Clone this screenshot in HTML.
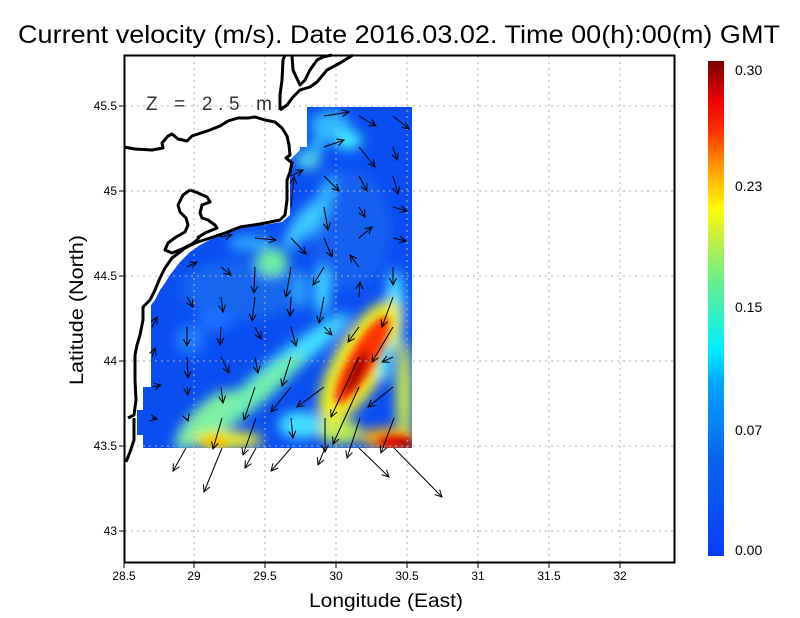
<!DOCTYPE html>
<html><head><meta charset="utf-8"><style>
html,body{margin:0;padding:0;background:#fff;}
svg{display:block;font-family:"Liberation Sans",sans-serif;}
</style></head><body>
<svg width="800" height="618" viewBox="0 0 800 618" xmlns="http://www.w3.org/2000/svg">
<defs>
<clipPath id="dc"><path d="M307,107 L412,107 L412,448 L143,448 L143,435 L137,435 L137,410 L143,410 L143,387 L151,387 L151,305 L155,300 L160,290 L165,283 L170,275 L180,262 L190,252 L200,245 L215,237 L230,230 L282,222 L290,215 L290,160 L300,150 L300,147 L307,147 Z"/></clipPath>
<filter id="b8" x="-50%" y="-50%" width="200%" height="200%"><feGaussianBlur stdDeviation="6"/></filter>
<filter id="b5" x="-50%" y="-50%" width="200%" height="200%"><feGaussianBlur stdDeviation="4"/></filter>
<linearGradient id="cb" x1="0" y1="1" x2="0" y2="0">
<stop offset="0" stop-color="#0a3cff"/><stop offset="0.2" stop-color="#0a64f0"/><stop offset="0.35" stop-color="#00a8ff"/><stop offset="0.42" stop-color="#00f0ff"/><stop offset="0.55" stop-color="#60f090"/><stop offset="0.66" stop-color="#d8f030"/><stop offset="0.7" stop-color="#ffff00"/><stop offset="0.78" stop-color="#ffa000"/><stop offset="0.86" stop-color="#ff3000"/><stop offset="0.92" stop-color="#f00000"/><stop offset="1" stop-color="#780000"/>
</linearGradient>
<marker id="ah" markerWidth="8" markerHeight="8" refX="7" refY="4" orient="auto" markerUnits="userSpaceOnUse"><path d="M0,0.5 L7,4 L0,7.5" fill="none" stroke="#000" stroke-width="1"/></marker>
</defs>

<g clip-path="url(#dc)">
<rect x="130" y="100" width="290" height="360" fill="#0a4ef2"/>
<g filter="url(#b8)">
<ellipse cx="240" cy="290" rx="60" ry="30" fill="#1466f0"/>
<ellipse cx="350" cy="230" rx="40" ry="60" fill="#1260f0"/>
<ellipse cx="330" cy="125" rx="20" ry="14" fill="#30b8ff"/>
<ellipse cx="348" cy="140" rx="14" ry="10" fill="#40e8ff"/>
<ellipse cx="308" cy="160" rx="12" ry="9" fill="#70f0c0"/>
<ellipse cx="318" cy="145" rx="6" ry="30" fill="#30c0ff" transform="rotate(35 318 145)"/>
<ellipse cx="322" cy="205" rx="8" ry="32" fill="#30b8ff" transform="rotate(20 322 205)"/>
<ellipse cx="302" cy="225" rx="9" ry="28" fill="#40d0ff" transform="rotate(35 302 225)"/>
<ellipse cx="272" cy="262" rx="16" ry="14" fill="#70f0a0"/>
<ellipse cx="250" cy="243" rx="22" ry="7" fill="#30b0ff"/>
<ellipse cx="322" cy="290" rx="8" ry="25" fill="#40d8ff"/>
<ellipse cx="300" cy="290" rx="6" ry="20" fill="#30b0ff"/>
<ellipse cx="395" cy="310" rx="9" ry="40" fill="#50e8ff"/>
<ellipse cx="404" cy="395" rx="8" ry="55" fill="#d0f040"/>
<ellipse cx="290" cy="360" rx="12" ry="75" fill="#40e0ff" transform="rotate(52 290 360)"/>
<ellipse cx="245" cy="400" rx="13" ry="75" fill="#70f0b0" transform="rotate(52 245 400)"/>
<ellipse cx="205" cy="420" rx="14" ry="40" fill="#80f0a0" transform="rotate(45 205 420)"/>
<ellipse cx="228" cy="440" rx="35" ry="9" fill="#f0f020"/>
<ellipse cx="300" cy="425" rx="22" ry="14" fill="#40e0ff"/>
<ellipse cx="340" cy="432" rx="22" ry="12" fill="#c0f050"/>
<ellipse cx="360" cy="362" rx="26" ry="70" fill="#f0f020" transform="rotate(30 360 362)"/>
<ellipse cx="384" cy="360" rx="7" ry="22" fill="#40e0ff"/>
<ellipse cx="388" cy="438" rx="28" ry="10" fill="#ffb000"/>
<ellipse cx="190" cy="340" rx="14" ry="14" fill="#2080ff"/>
<ellipse cx="215" cy="320" rx="18" ry="12" fill="#1a70ff"/>
</g>
<g filter="url(#b5)">
<ellipse cx="362" cy="360" rx="13" ry="50" fill="#ff3000" transform="rotate(30 362 360)"/>
<ellipse cx="357" cy="372" rx="6" ry="24" fill="#a00000" transform="rotate(25 357 372)"/>
<ellipse cx="395" cy="442" rx="18" ry="6" fill="#e00000"/>
<ellipse cx="406" cy="445" rx="8" ry="4" fill="#900000"/>
<ellipse cx="215" cy="442" rx="12" ry="6" fill="#ffc000"/>
</g>
</g>

<g stroke="#b0b0b0" stroke-width="1" stroke-dasharray="2,4" fill="none">
<path d="M194,56V562 M265,56V562 M336,56V562 M407,56V562 M478,56V562 M549,56V562 M620,56V562"/>
<path d="M125,106H674 M125,191H674 M125,276H674 M125,361H674 M125,446H674 M125,531H674"/>
</g>

<g fill="none" stroke="#000" stroke-width="3" stroke-linejoin="round">
<path d="M124,147 L135,149 L152,150 L163,148 L162,143 L168,136 L172,134 L178,139 L187,141 L192,136 L198,134 L210,130 L220,126 L228,121 L238,118 L248,118 L255,117 L265,120 L275,122 L282,128 L287,136 L289,145 L290,155 L286,158 L292,163 L290,172 L287,180 L287,200 L285,215 L280,220 L260,224 L240,227 L225,233 L210,238 L195,243 L185,248 L180,252 L172,258 L165,268 L160,278 L155,290 L150,300 L143,307 L143,320 L140,335 L137,345 L135,355 L135,380 L136,400 L134,415 L128,418 M134,418 L134,440 L130,452 L126,462"/>
<path d="M190,190 L183,195 L178,205 L180,212 L186,218 L188,225 L185,232 L176,237 L168,243 L165,250 L172,253 L182,249 L192,244 L197,240 L200,236"/>
<path d="M190,190 L198,193 L207,197 L210,202 L202,205 L200,213 L202,218 L208,220 L215,225 L217,228 L205,233 L197,238"/>
<path d="M280,110 L280,95 L282,80 L283,60 L285,55"/>
<path d="M280,110 L287,105 L293,97 L300,90 L310,87 L317,82 L327,70 L340,63 L353,55"/>
<path d="M292,55 L293,70 L300,85 L305,80 L310,70 L317,60 L323,57 L332,55"/>
</g>

<g stroke="#000" stroke-width="1" fill="none" marker-end="url(#ah)">
<path d="M324,116L349,112"/><path d="M359,116L376,126"/><path d="M393,116L409,129"/>
<path d="M324,147L344,140"/><path d="M359,147L375,167"/><path d="M393,147L397,160"/>
<path d="M291,176L303,170"/><path d="M324,176L339,191"/><path d="M359,176L367,191"/><path d="M393,176L398,194"/>
<path d="M291,207L294,177"/><path d="M324,207L328,230"/><path d="M359,207L365,217"/><path d="M393,207L407,211"/>
<path d="M220,237L232,235"/><path d="M255,238L276,240"/><path d="M291,238L306,254"/><path d="M324,238L332,257"/><path d="M359,238L372,227"/><path d="M393,238L406,241"/>
<path d="M187,267L197,262"/><path d="M221,267L231,275"/><path d="M255,267L254,293"/><path d="M291,267L286,297"/><path d="M324,267L313,285"/><path d="M359,267L350,255"/><path d="M393,267L393,285"/>
<path d="M187,297L193,307"/><path d="M221,297L223,312"/><path d="M255,297L252,321"/><path d="M291,297L290,316"/><path d="M324,297L319,323"/><path d="M359,297L360,282"/><path d="M393,297L382,327"/>
<path d="M152,327L157,317"/><path d="M187,327L187,346"/><path d="M221,327L220,345"/><path d="M255,327L261,339"/><path d="M291,327L296,346"/><path d="M324,327L332,335"/><path d="M359,327L348,342"/><path d="M393,327L372,362"/>
<path d="M152,357L155,348"/><path d="M187,357L188,378"/><path d="M221,357L229,373"/><path d="M255,357L258,373"/><path d="M291,357L282,386"/><path d="M359,357L331,417"/><path d="M393,357L382,362"/>
<path d="M152,387L161,385"/><path d="M187,387L188,395"/><path d="M221,387L223,403"/><path d="M255,387L244,420"/><path d="M291,387L271,412"/><path d="M324,387L297,407"/><path d="M359,387L333,444"/><path d="M393,387L368,407"/>
<path d="M152,418L157,419"/><path d="M187,418L188,421"/><path d="M222,418L213,449"/><path d="M256,418L243,455"/><path d="M291,418L293,438"/><path d="M325,418L325,452"/><path d="M360,418L347,458"/><path d="M394,418L381,453"/>
<path d="M186,448L173,471"/><path d="M222,448L204,492"/><path d="M256,448L245,468"/><path d="M291,448L271,471"/><path d="M325,448L318,465"/><path d="M359,448L389,477"/><path d="M394,448L442,497"/>
</g>

<rect x="124.5" y="55.5" width="550" height="507" fill="none" stroke="#000" stroke-width="2"/>
<g stroke="#000" stroke-width="1">
<path d="M124,563v5 M194,563v5 M265,563v5 M336,563v5 M407,563v5 M478,563v5 M549,563v5 M620,563v5"/>
<path d="M119,106h5 M119,191h5 M119,276h5 M119,361h5 M119,446h5 M119,531h5"/>
</g>
<g font-size="12" fill="#000" text-anchor="middle">
<text x="124" y="580">28.5</text><text x="194" y="580">29</text><text x="265" y="580">29.5</text><text x="336" y="580">30</text><text x="407" y="580">30.5</text><text x="478" y="580">31</text><text x="549" y="580">31.5</text><text x="620" y="580">32</text>
</g>
<g font-size="12" fill="#000" text-anchor="end">
<text x="117" y="110">45.5</text><text x="117" y="195">45</text><text x="117" y="280">44.5</text><text x="117" y="365">44</text><text x="117" y="450">43.5</text><text x="117" y="535">43</text>
</g>
<text x="146" y="110" font-size="19" fill="#333" textLength="126" lengthAdjust="spacing">Z = 2.5 m</text>
<text x="18" y="43" font-size="25" fill="#000" textLength="762" lengthAdjust="spacingAndGlyphs">Current velocity (m/s). Date 2016.03.02. Time 00(h):00(m) GMT</text>
<text x="386" y="607" font-size="19" fill="#000" text-anchor="middle" textLength="154" lengthAdjust="spacingAndGlyphs">Longitude (East)</text>
<text transform="translate(83,310) rotate(-90)" font-size="19" fill="#000" text-anchor="middle" textLength="150" lengthAdjust="spacingAndGlyphs">Latitude (North)</text>

<rect x="708" y="61" width="16" height="495" fill="url(#cb)"/>
<g font-size="14" fill="#000">
<text x="735" y="75">0.30</text><text x="735" y="191">0.23</text><text x="735" y="312">0.15</text><text x="735" y="435">0.07</text><text x="735" y="555">0.00</text>
</g>
</svg>
</body></html>
